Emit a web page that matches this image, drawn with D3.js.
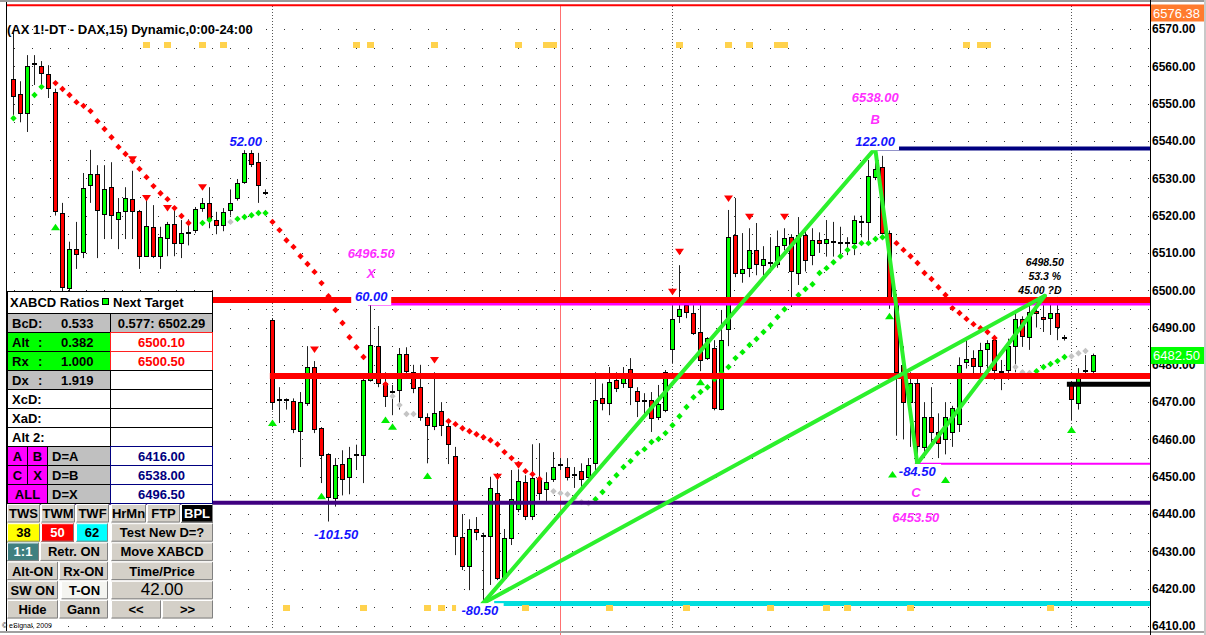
<!DOCTYPE html>
<html>
<head>
<meta charset="utf-8">
<script src="https://cdn.jsdelivr.net/npm/d3@7"></script>
<style>
  body { margin: 0; background: #fff; }
  svg { display: block; font-family: "Liberation Sans", Arial, sans-serif; }
</style>
</head>
<body>
<div id="chart"></div>
<script>
"use strict";
const width = 1206, height = 635;
const plotLeft = 6, plotRight = 1150;

// 15 min DAX bars
const opens = [6556.6,6552.6,6547.5,6560.5,6560,6558,6553,6520.7,6500.6,6511,
  6510.2,6528.2,6531.1,6520.4,6527.6,6519,6521.2,6524.4,6521.2,6509.1,
  6516.9,6509.1,6514,6517.7,6512.6,6515.3,6516.1,6522,6523.4,6518.8,
  6517.5,6521.5,6524.7,6529,6536.8,6534.3,6526,6492,6470.5,6470.5,
  6470.3,6462.2,6469.7,6479.4,6463,6456,6444.3,6453.4,6450,6455.8,
  6455.8,6475.9,6485,6475,6472.7,6473.2,6482.9,6478,6474,6466,
  6463.6,6467.6,6463.6,6455.5,6433.8,6426,6436,6434.2,6434.1,6445.6,
  6422.8,6433.5,6441.3,6448.6,6439.4,6449.6,6446.7,6449.4,6453.1,6452.6,
  6450.4,6451.5,6450,6453.6,6471,6469.7,6476,6475,6478.8,6473,
  6470.3,6470.5,6466,6467.9,6484.2,6493,6496,6494,6488.8,6481.8,
  6484.5,6468,6489.6,6514.8,6504.6,6506,6510.7,6506.7,6507.3,6507,
  6512,6514.2,6504.6,6514.8,6509.4,6513.4,6512.6,6512.9,6512.6,6512.6,
  6512.6,6518.3,6518.3,6530.3,6533,6515.3,6497,6480,6470,6475,
  6458,6466,6462,6460,6462,6464,6480.7,6481.8,6479.7,6484.2,
  6486.6,6478,6478.6,6485,6492.3,6487.4,6494.4,6492.8,6492.5,6493.9,
  6487.2,6475.1,6469.7,6478.3,6478.3];
const highs = [6569,6556,6563,6563,6561.4,6560.3,6554,6523.4,6513,6518.3,
  6531.4,6537.6,6533.5,6533.5,6534.3,6524.7,6527.6,6532,6521.5,6524.7,
  6522.8,6517,6518.3,6522.3,6518.8,6519,6522.3,6524.7,6527.6,6521,
  6522,6527,6529.8,6538.1,6538,6536.8,6527,6492.5,6474,6471,
  6471,6472.7,6485,6481,6463.3,6456.3,6455,6457.1,6458,6458.6,
  6476.2,6496,6490.4,6478,6474.6,6484.5,6484.7,6480,6480,6467,
  6478,6470,6464.6,6458,6440,6438.6,6439.2,6435,6450,6451,
  6436,6451.8,6452,6450.4,6458.7,6459,6451.2,6456.6,6455,6455,
  6452.6,6453.6,6455,6478,6475,6479.4,6478,6479.4,6481.8,6474,
  6472.4,6472.7,6474.6,6478.6,6496,6506.7,6496.5,6496,6496,6487.4,
  6486.6,6494.7,6521.5,6524.7,6515.3,6516.6,6518,6511.8,6514.2,6516,
  6516.6,6515,6519.6,6516,6516.6,6515.5,6518.8,6518.3,6517,6514.2,
  6520,6520,6534.9,6538,6536,6516,6499,6485,6478,6477,
  6470,6474,6467,6470,6469,6482,6486.6,6483.9,6485.9,6486.6,
  6488,6481.3,6487,6494.7,6493,6496,6497.9,6496,6496.5,6498.2,
  6488,6475.5,6479.1,6482.6,6483];
const lows = [6547,6545,6542.4,6555,6555,6551.5,6520,6499.2,6499,6505.7,
  6508.6,6523.4,6508.6,6513.7,6513.7,6511,6513.7,6513.7,6505.7,6508.9,
  6508.6,6505.7,6509.1,6509.1,6508.6,6512,6515.3,6521,6516.6,6515,
  6515.8,6520,6524,6528.5,6533,6523.4,6525.5,6467.9,6464.4,6468,
  6461.7,6452.6,6469,6461.7,6448.3,6438,6442,6445,6445.3,6451.8,
  6448.3,6475.5,6474,6468.7,6466.5,6468,6477,6472.4,6465,6453.6,
  6462.5,6460.9,6453.4,6429,6425,6419.6,6433,6416,6421,6422.3,
  6422.3,6431.7,6440.5,6438.4,6438.4,6443.7,6443,6448.6,6451.8,6449,
  6447,6447,6449.2,6451.8,6467.8,6466.5,6472.7,6473.8,6469.2,6466,
  6466.5,6462,6465.2,6467.3,6480.5,6491.2,6492.5,6488,6478.3,6481.3,
  6467.8,6467.8,6485,6503.5,6502,6503.5,6504,6504,6505,6506,
  6510.7,6495.5,6501.4,6505,6506.7,6510,6509,6509,6509,6509.4,
  6509.4,6514.2,6512.6,6529.5,6515,6495,6461,6460,6458,6453.5,
  6455,6458,6455,6456,6458,6462,6479,6477,6476,6478,
  6476,6473.2,6476,6478,6485,6484,6490,6488.8,6488,6486.6,
  6486.5,6465.2,6468,6477.8,6477.5];
const closes = [6552,6547.5,6560,6560.5,6558.2,6554.2,6521.2,6501,6511,6509.7,
  6527.4,6531.1,6521.5,6527.1,6520.1,6521,6524.7,6521.2,6509.1,6517.2,
  6509.1,6514.2,6517.7,6512.6,6515.3,6515.3,6521.7,6523.4,6519,6517.5,
  6521,6523.4,6528.7,6536.8,6533.8,6528.2,6526,6470,6470.5,6470.5,
  6462.8,6470,6479.4,6462.8,6455.8,6444.5,6453.1,6449.4,6455,6455.8,
  6475.9,6485.3,6475,6471.6,6472.7,6482.9,6478.3,6473.8,6466,6463.8,
  6467,6463.8,6458.7,6434,6426,6436,6435.2,6434.2,6447,6422.8,
  6433.5,6444,6448.8,6439.4,6449.6,6445.6,6448.6,6452.6,6453.1,6450,
  6450.4,6449.4,6453.1,6470.5,6469.7,6475.4,6473.8,6477.8,6474,6470.3,
  6470.3,6465.7,6469.5,6478,6492.3,6495,6494.2,6488.7,6481.3,6487.2,
  6468.4,6486.6,6514.2,6504.6,6505.7,6510.7,6507,6508.3,6507.3,6511.8,
  6514,6505,6514.8,6508,6513.4,6512.6,6513.7,6512.9,6512.6,6512.6,
  6518.8,6518.3,6530.5,6532.5,6515.3,6498,6478,6470,6475,6458,
  6466,6462,6459,6466,6468.4,6479.9,6481.5,6479.7,6483.9,6485.8,
  6478.6,6478,6485,6492.3,6487.7,6494.1,6493.9,6492.3,6493.9,6490.1,
  6487.2,6470.8,6477.8,6478.3,6482.5];

// trailing stop dots: runs starting at a bar, g = long, r = short, k = neutral
const sarStart = [0, 3, 6, 27, 31, 32, 37, 53, 54, 62, 77, 83, 126, 143, 146, 151];
const sarKind = ["g","g","r","g","k","g","r","r","k","r","k","g","r","k","g","k"];
const sarVals = [
  [6546.1],
  [6552.3, 6554.5],
  [6555.5,6553.9,6552.3,6550.4,6549.4,6548,6545.3,6543.2,6541,6538.4,6536.5,6534.6,6532.5,6530.3,6527.9,6526,6524.4,6522,6519.9,6518],
  [6518, 6518.8],
  [6518.3],
  [6519.1,6519.6,6520.1,6520.7,6520.7],
  [6518.3,6516.1,6513.4,6511.6,6509.1,6507,6504.9,6501.9,6498.4,6494.7,6491.2,6487.4,6484.7,6482.1],
  [6474.8],
  [6471.6,6469.2,6466.8,6466.8],
  [6464.9,6464.1,6463,6462.2,6461.4,6460.6,6459.8,6458.7,6456.6,6455,6453.4,6451.5,6450.7,6449.4],
  [6446.1,6445.6,6445.3,6444.3,6443.2,6442.9],
  [6444,6445.9,6448.3,6450.4,6452.6,6454.2,6456.3,6457.4,6459.3,6460.1,6461.7,6463.8,6466.2,6468.7,
   6471.3,6472.7,6474,6476.2,6477.8,6479.4,6481.8,6483.4,6485.3,6486.9,6488.8,6490.6,6492.8,6494.9,
   6496.8,6498.7,6500.3,6501.6,6504.6,6505.9,6507.5,6509.1,6510.8,6511.6,6512.6,6512.6,6513.7,6514.2],
  [6512.6,6510.8,6509.1,6507.3,6504.6,6503,6500.8,6498.7,6495.2,6493.9,6492.3,6490.9,6489.8,6488.8,6487.2],
  [6479.4,6478,6477.8],
  [6478.3,6479.4,6480.2,6481,6482.1],
  [6482.3,6483.1,6483.7]
];

// signal arrows
const downIdx = [17, 19, 22, 27, 43, 60, 69, 72, 94, 95, 102, 105, 110];
const downPrice = [6535.1, 6524.7, 6522, 6527.6, 6484.1, 6481.3, 6450, 6453.1, 6499.6, 6510.3, 6524.6, 6519.7, 6519.7];
const upIdx = [6, 37, 44, 53, 54, 59, 98, 125, 125.4, 133, 151];
const upPrice = [6516.9, 6464.4, 6444.8, 6465.2, 6463.4, 6450.2, 6475.3, 6493, 6450.6, 6449.1, 6462.5];

// yellow time marks
const topMarks = [19, 22, 27, 30, 49, 51, 60, 72, 76, 77, 95, 102, 105, 109, 110, 136, 138, 139];
const bottomMarks = [39, 50, 59, 61, 63, 65, 73, 85, 96, 108, 116, 119, 128, 148];

// session starts and the cursor bar
const dayStarts = [37, 94, 151];
const cursorBar = 78;

// horizontal levels: price and first bar
const levelPrice = [6576.38, 6538, 6497.4, 6496.5, 6477, 6474.8, 6453.5, 6443, 6416];
const levelStart = [0, 123, 0, 51, 37, 150.7, 129, 0, 69];

// XABCD pivots
const pivotName = ["X", "A", "B", "C", "D"];
const pivotIdx = [51, 67, 123, 129, 147.2];
const pivotPrice = [6496.5, 6416, 6538, 6453.5, 6498.5];
const patternLegs = [["A","B"], ["B","C"], ["C","D"], ["A","D"]];

// annotation texts (bar, price of baseline)
const blueText = ["52.00", "-101.50", "60.00", "-80.50", "122.00", "-84.50"];
const blueIdx = [33.2, 46.1, 51.1, 66.6, 123, 129];
const bluePrice = [6538.6, 6433.3, 6497.1, 6412.9, 6538.6, 6450.2];
const pinkText = ["6496.50", "X", "6538.00", "B", "C", "6453.50"];
const pinkIdx = [51.1, 51.1, 123, 123, 128.8, 128.8];
const pinkPrice = [6508.6, 6503.2, 6550.4, 6544.5, 6444.5, 6437.8];
const dText = ["6498.50", "53.3 %", "45.00 ?D"];
const dIdx = [147.2, 147.2, 146.5];
const dPrice = [6506.5, 6502.7, 6499];

// axis ticks and price boxes
const tickValues = d3.range(6410, 6571, 10);
const boxPrice = [6576.38, 6482.5];

// ratio panel
const ratioLabel = ["BcD:", "Alt", "Rx", "Dx", "XcD:", "XaD:", "Alt 2:"];
const ratioValue = ["0.533", "0.382", "1.000", "1.919", "", "", ""];
const ratioTarget = ["0.577: 6502.29", "6500.10", "6500.50", "", "", "", ""];
const pointTarget = ["6416.00", "6538.00", "6496.50"];

const x = d3.scaleLinear().domain([0, 154]).range([13, 1092.5]);
const y = d3.scaleLinear().domain([6410, 6570]).range([626, 29]);
const px = i => Math.round(x(i));

const svg = d3.select("#chart").append("svg")
  .attr("width", width).attr("height", height);

svg.append("rect").attr("width", width).attr("height", height).attr("fill", "#fff");

// dotted grid
svg.append("g").selectAll("line")
  .data(d3.range(6410, 6571, 5))
  .join("line")
  .attr("x1", plotLeft + 8).attr("x2", plotRight)
  .attr("y1", d => Math.round(y(d)) + 0.5).attr("y2", d => Math.round(y(d)) + 0.5)
  .attr("stroke", "#333").attr("stroke-dasharray", "1,17");

svg.append("g").selectAll("line")
  .data(dayStarts)
  .join("line")
  .attr("x1", d => px(d) + 0.5).attr("x2", d => px(d) + 0.5)
  .attr("y1", 6).attr("y2", 630)
  .attr("stroke", "#555").attr("stroke-dasharray", "1,2");

svg.append("line")
  .attr("x1", px(cursorBar) + 0.5).attr("x2", px(cursorBar) + 0.5)
  .attr("y1", 6).attr("y2", 635)
  .attr("stroke", "#ff7070");

// candles
const bars = d3.range(opens.length);
const cg = svg.append("g");
cg.selectAll("line").data(bars).join("line")
  .attr("x1", i => px(i) + 0.5).attr("x2", i => px(i) + 0.5)
  .attr("y1", i => y(highs[i])).attr("y2", i => y(lows[i]))
  .attr("stroke", "#222");
cg.selectAll("rect.body").data(bars.filter(i => Math.abs(opens[i] - closes[i]) >= 0.3)).join("rect")
  .attr("class", "body")
  .attr("x", i => px(i) - 1.5).attr("width", 4)
  .attr("y", i => Math.round(y(Math.max(opens[i], closes[i]))) + 0.5)
  .attr("height", i => Math.max(1, Math.round(Math.abs(y(opens[i]) - y(closes[i])))))
  .attr("fill", i => closes[i] > opens[i] ? "#00ff00" : "#ff0000")
  .attr("stroke", "#000");
cg.selectAll("rect.doji").data(bars.filter(i => Math.abs(opens[i] - closes[i]) < 0.3)).join("rect")
  .attr("class", "doji")
  .attr("x", i => px(i) - 2).attr("width", 5)
  .attr("y", i => Math.round(y(opens[i])) - 1).attr("height", 2)
  .attr("fill", "#000");

// stop dots
const sarPts = sarStart.flatMap((s, k) => sarVals[k].map((v, j) => ({ i: s + j, v, kind: sarKind[k] })));
const sarColor = { r: "#ff0000", g: "#00ee00", k: "#c4c4c4" };
svg.append("g").selectAll("path").data(sarPts).join("path")
  .attr("transform", d => `translate(${px(d.i) + 0.5},${y(d.v)})`)
  .attr("d", "M0,-3.2L3.2,0L0,3.2L-3.2,0Z")
  .attr("fill", d => sarColor[d.kind]);

// levels
const levelColor = ["#ff0000", "#000080", "#ff0000", "#ff00ff", "#ff0000", "#000000", "#ff00ff", "#400080", "#00dede"];
const levelWidth = [2, 4, 6, 2.5, 6, 5, 2, 4, 5];
const levelOrder = [0, 1, 3, 2, 4, 5, 6, 7, 8];
svg.append("g").selectAll("line").data(levelOrder).join("line")
  .attr("x1", k => levelStart[k] === 0 ? plotLeft : x(levelStart[k]) - 2.5)
  .attr("x2", plotRight)
  .attr("y1", k => k === 3 ? y(levelPrice[k]) + 1 : y(levelPrice[k]))
  .attr("y2", k => k === 3 ? y(levelPrice[k]) + 1 : y(levelPrice[k]))
  .attr("stroke", k => levelColor[k]).attr("stroke-width", k => levelWidth[k]);

// XABCD legs
const piv = name => pivotName.indexOf(name);
svg.append("g").selectAll("line").data(patternLegs).join("line")
  .attr("x1", d => x(pivotIdx[piv(d[0])])).attr("y1", d => y(pivotPrice[piv(d[0])]))
  .attr("x2", d => x(pivotIdx[piv(d[1])])).attr("y2", d => y(pivotPrice[piv(d[1])]))
  .attr("stroke", "#2cf02c").attr("stroke-width", 4).attr("stroke-linecap", "round");

// top and bottom marks
svg.append("g").selectAll("rect").data(topMarks).join("rect")
  .attr("x", d => px(d) - 3).attr("y", 42).attr("width", 7).attr("height", 6).attr("fill", "#ffd24d");
svg.append("g").selectAll("rect").data(bottomMarks).join("rect")
  .attr("x", d => px(d) - 3).attr("y", 605).attr("width", 7).attr("height", 6).attr("fill", "#ffd24d");

// white boxes behind the blue numbers
svg.append("g").selectAll("rect").data(blueText).join("rect")
  .attr("x", (d, k) => x(blueIdx[k]) - d.length * 3.8 - 1)
  .attr("y", (d, k) => y(bluePrice[k]) - 12)
  .attr("width", d => d.length * 7.6 + 2).attr("height", 16)
  .attr("fill", "#fff");

// arrows
svg.append("g").selectAll("path").data(downIdx).join("path")
  .attr("transform", (d, k) => `translate(${px(d) + 0.5},${y(downPrice[k])})`)
  .attr("d", "M-4.5,-3L4.5,-3L0,3.5Z").attr("fill", "#ff0000");
svg.append("g").selectAll("path").data(upIdx).join("path")
  .attr("transform", (d, k) => `translate(${px(d) + 0.5},${y(upPrice[k])})`)
  .attr("d", "M0,-3.5L4.5,3L-4.5,3Z").attr("fill", "#00ee00");

// annotation labels
function labels(texts, idx, price, color, size) {
  const g = svg.append("g").attr("font-weight", "bold").attr("font-style", "italic")
    .attr("font-size", size).attr("text-anchor", "middle");
  g.selectAll("text").data(texts).join("text")
    .attr("x", (d, k) => x(idx[k])).attr("y", (d, k) => y(price[k]))
    .attr("fill", color).text(d => d);
}
labels(blueText, blueIdx, bluePrice, "#1414ff", 13);
labels(pinkText, pinkIdx, pinkPrice, "#ff30ff", 13);
labels(dText, dIdx, dPrice, "#000", 10.5);

// title
svg.append("text").attr("x", 7).attr("y", 34)
  .attr("font-size", 13).attr("font-weight", "bold")
  .text("(AX 1!-DT - DAX,15) Dynamic,0:00-24:00");
svg.append("text").attr("x", 2).attr("y", 628).attr("font-size", 7).text("\u00a9 eSignal, 2009");

// ratio panel
const panel = svg.append("g").attr("font-size", 13).attr("font-weight", "bold");
const L = 7.5, M = 110.5, R = 212.5, rowH = 19;
panel.append("rect").attr("x", L).attr("y", 291.5).attr("width", R - L).attr("height", 212)
  .attr("fill", "#fff").attr("stroke", "#000");
panel.append("text").attr("x", 10).attr("y", 307).text("XABCD Ratios");
panel.append("rect").attr("x", 102.5).attr("y", 298.5).attr("width", 6).attr("height", 6)
  .attr("fill", "#00ff00").attr("stroke", "#000");
panel.append("text").attr("x", 113).attr("y", 307).text("Next Target");

const leftFill = ["#c0c0c0", "#00ff00", "#00ff00", "#c0c0c0", "#fff", "#fff", "#fff"];
const rightFill = ["#c0c0c0", "#fff", "#fff", "#fff", "#fff", "#fff", "#fff"];
ratioLabel.forEach((lab, r) => {
  const top = 313.5 + r * rowH;
  const hot = r === 1 || r === 2;
  panel.append("rect").attr("x", L).attr("y", top).attr("width", M - L).attr("height", rowH)
    .attr("fill", leftFill[r]).attr("stroke", "#000");
  panel.append("rect").attr("x", M).attr("y", top).attr("width", R - M).attr("height", rowH)
    .attr("fill", rightFill[r]).attr("stroke", hot ? "#ff2020" : "#000");
  panel.append("text").attr("x", 12).attr("y", top + 14.5).text(lab);
  if (r >= 1 && r <= 3) panel.append("text").attr("x", 38).attr("y", top + 14.5).text(":");
  panel.append("text").attr("x", 61).attr("y", top + 14.5).text(ratioValue[r]);
  panel.append("text").attr("x", 161.5).attr("y", top + 14.5).attr("text-anchor", "middle")
    .attr("fill", hot ? "#ff0000" : "#000").text(ratioTarget[r]);
});

const pointCells = [[["A", 7.5, 27.5], ["B", 27.5, 47.5]], [["C", 7.5, 27.5], ["X", 27.5, 47.5]], [["ALL", 7.5, 47.5]]];
const pointLabel = ["D=A", "D=B", "D=X"];
pointTarget.forEach((v, r) => {
  const top = 446.5 + r * rowH;
  pointCells[r].forEach(c => {
    panel.append("rect").attr("x", c[1]).attr("y", top).attr("width", c[2] - c[1]).attr("height", rowH)
      .attr("fill", "#ff00ff").attr("stroke", "#000");
    panel.append("text").attr("x", (c[1] + c[2]) / 2).attr("y", top + 14.5).attr("text-anchor", "middle").text(c[0]);
  });
  panel.append("rect").attr("x", 47.5).attr("y", top).attr("width", M - 47.5).attr("height", rowH)
    .attr("fill", "#c0c0c0").attr("stroke", "#000");
  panel.append("text").attr("x", 52).attr("y", top + 14.5).text(pointLabel[r]);
  panel.append("rect").attr("x", M).attr("y", top).attr("width", R - M).attr("height", rowH)
    .attr("fill", "#fff").attr("stroke", "#000080");
  panel.append("text").attr("x", 161.5).attr("y", top + 14.5).attr("text-anchor", "middle")
    .attr("fill", "#000080").text(v);
});

// button rows
const buttonRows = [
  [["TWS", 7, 40], ["TWM", 41, 75], ["TWF", 76, 109], ["HrMn", 111, 146], ["FTP", 147, 180], ["BPL", 181, 213, "#000", "#fff"]],
  [["38", 7, 40, "#ffff00"], ["50", 41, 74, "#ff0000", "#fff"], ["62", 76, 108, "#00ffff"], ["Test New D=?", 111, 213]],
  [["1:1", 7, 39, "#408080", "#fff"], ["Retr. ON", 40, 108], ["Move XABCD", 111, 213]],
  [["Alt-ON", 7, 58], ["Rx-ON", 59, 108], ["Time/Price", 111, 213]],
  [["SW ON", 7, 58], ["T-ON", 61, 108, "#f4f4f0"], ["42.00", 111, 213, null, null, true]],
  [["Hide", 7, 58], ["Gann", 59, 108], ["<<", 111, 161], [">>", 162, 213]]
];
buttonRows.forEach((row, r) => {
  const top = 504 + r * 19.2;
  row.forEach(b => {
    const [lab, x0, x1, fill, color, big] = b;
    const g = panel.append("g");
    g.append("rect").attr("x", x0).attr("y", top).attr("width", x1 - x0).attr("height", 18.5)
      .attr("fill", fill || "#d4d0c8");
    g.append("path").attr("d", `M${x0 + 0.5},${top + 18}V${top + 0.5}H${x1 - 0.5}`)
      .attr("fill", "none").attr("stroke", "#fff");
    g.append("path").attr("d", `M${x0 + 0.5},${top + 18}H${x1 - 0.5}V${top + 0.5}`)
      .attr("fill", "none").attr("stroke", "#808080");
    g.append("text").attr("x", (x0 + x1) / 2).attr("y", top + 14)
      .attr("text-anchor", "middle").attr("fill", color || "#000")
      .attr("font-weight", big ? "normal" : "bold").attr("font-size", big ? 17 : 13)
      .text(lab);
  });
});

// frame and price axis
svg.append("line").attr("x1", 0).attr("x2", width).attr("y1", 1).attr("y2", 1).attr("stroke", "#9a9a9a").attr("stroke-width", 2);
svg.append("line").attr("x1", plotLeft + 0.5).attr("x2", plotLeft + 0.5).attr("y1", 2).attr("y2", 632).attr("stroke", "#000");
svg.append("line").attr("x1", 0).attr("x2", width).attr("y1", 632).attr("y2", 632).attr("stroke", "#a0a0a0").attr("stroke-width", 2);
svg.append("rect").attr("x", plotRight).attr("y", 2).attr("width", width - plotRight).attr("height", 629).attr("fill", "#fff");
svg.append("line").attr("x1", plotRight + 0.5).attr("x2", plotRight + 0.5).attr("y1", 0).attr("y2", height).attr("stroke", "#000");
svg.append("line").attr("x1", width - 1).attr("x2", width - 1).attr("y1", 0).attr("y2", height).attr("stroke", "#c8c8c8").attr("stroke-width", 2);

const yAxis = d3.axisRight(y).tickValues(tickValues).tickFormat(d3.format(".2f")).tickSize(0).tickPadding(2);
svg.append("g").attr("transform", `translate(${plotRight},0)`).call(yAxis)
  .call(g => g.select(".domain").remove())
  .selectAll("text").attr("font-size", 12).attr("font-weight", "bold").attr("fill", "#000")
  .attr("font-family", "'Liberation Sans', Arial, sans-serif");

const boxFill = ["#ff7b2e", "#00ff00"];
boxPrice.forEach((p, k) => {
  const cy = Math.max(13, y(p));
  svg.append("rect").attr("x", plotRight + 1).attr("y", cy - 8.5).attr("width", 53).attr("height", 17).attr("fill", boxFill[k]);
  svg.append("text").attr("x", plotRight + 3).attr("y", cy + 5).attr("font-size", 13).attr("fill", "#fff")
    .text(d3.format(".2f")(p));
});
</script>
</body>
</html>
